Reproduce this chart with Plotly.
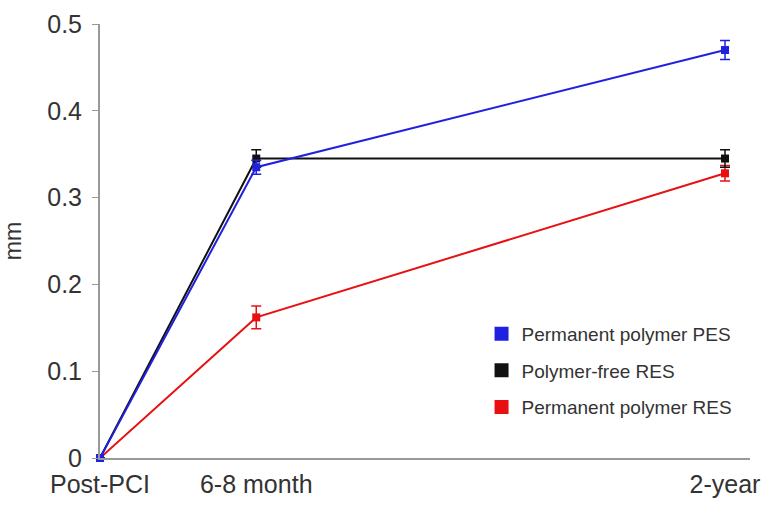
import plotly.graph_objects as go

# Data
months = [0, 6, 24]
tick_labels = ["Post-PCI", "6-8 month", "2-year"]
series_names = ["Permanent polymer PES", "Polymer-free RES", "Permanent polymer RES"]
pes_values = [0.0, 0.335, 0.470]
pes_err = [0.0, 0.008, 0.011]
free_values = [0.0, 0.345, 0.345]
free_err = [0.0, 0.010, 0.010]
res_values = [0.0, 0.162, 0.328]
res_err = [0.0, 0.013, 0.009]

colors = ["#2020e0", "#111111", "#e81010"]

fig = go.Figure()
data = [(pes_values, pes_err), (free_values, free_err), (res_values, res_err)]
order = [2, 1, 0]  # draw red first, then black, then blue
for i in order:
    vals, errs = data[i]
    fig.add_trace(go.Scatter(
        x=months, y=vals, mode="lines+markers",
        line=dict(color=colors[i], width=2),
        marker=dict(symbol="square", size=8, color=colors[i]),
        error_y=dict(type="data", array=errs, visible=True, color=colors[i],
                     thickness=1.5, width=5),
        showlegend=False, cliponaxis=False,
    ))

# legend entries (square swatches)
for i in range(3):
    fig.add_trace(go.Scatter(
        x=[None], y=[None], mode="markers", name=series_names[i],
        marker=dict(symbol="square", size=14, color=colors[i]),
        legendgroup=str(i), showlegend=True,
    ))

fig.update_layout(
    width=762, height=506,
    margin=dict(l=100, r=12, t=24, b=48),
    plot_bgcolor="white", paper_bgcolor="white",
    font=dict(family="Liberation Sans, Arial, sans-serif", color="#333333"),
    legend=dict(x=0.587, y=0.33, xanchor="left", yanchor="top",
                font=dict(size=19, color="#333333"),
                tracegroupgap=9, bgcolor="rgba(0,0,0,0)",
                itemwidth=30),
    xaxis=dict(
        range=[0, 24.96], tickmode="array", tickvals=months, ticktext=tick_labels,
        showline=True, linecolor="#999999", linewidth=2, showgrid=False,
        zeroline=False, ticks="", tickfont=dict(size=25, color="#333333"),
        automargin=False, ticklabelstandoff=3, ticklabeloverflow="allow",
    ),
    yaxis=dict(
        range=[0, 0.5], tickmode="array", tickvals=[0, 0.1, 0.2, 0.3, 0.4, 0.5],
        ticktext=["0", "0.1", "0.2", "0.3", "0.4", "0.5"],
        showline=True, linecolor="#999999", linewidth=2, showgrid=False,
        zeroline=False, ticks="outside", ticklen=6, tickcolor="#999999",
        tickfont=dict(size=25, color="#333333"), automargin=False,
        ticklabelstandoff=5,
        title=dict(text="mm", font=dict(size=23, color="#333333"), standoff=22),
    ),
)

fig.write_html(
    "out.html",
    config={"displayModeBar": False},
    post_script="document.body.style.margin='0';document.body.style.overflow='hidden';",
)
